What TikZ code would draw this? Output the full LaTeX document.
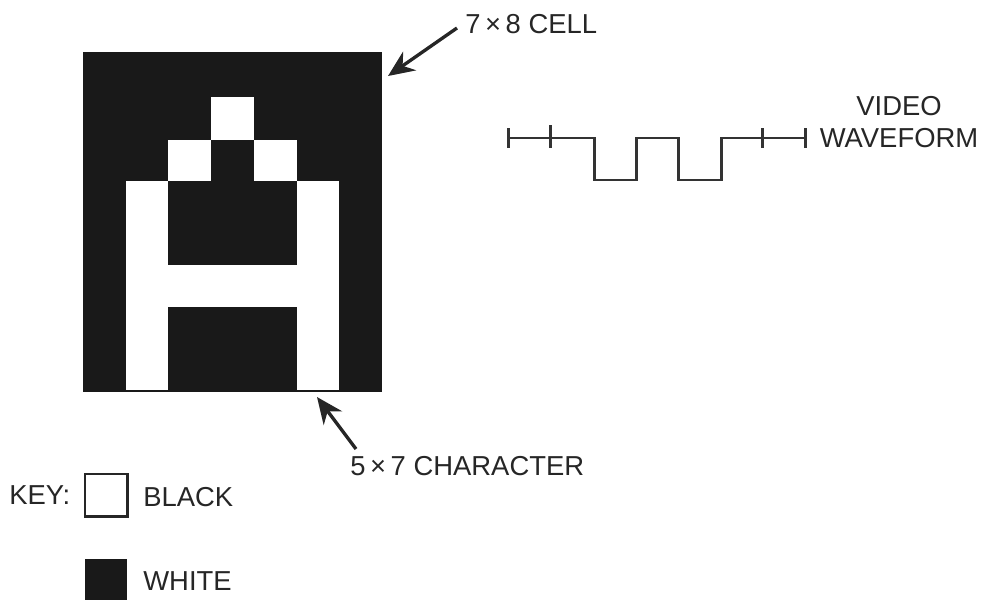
\documentclass[tikz,border=0pt]{standalone}
\usepackage{fontspec}
\setmainfont{Liberation Sans}
\usetikzlibrary{arrows.meta}
\tikzset{
    label text/.style={inner sep=0pt, anchor=west, text=black!85, font=\fontsize{15.6}{17}\selectfont},
    cell fill/.style={fill=black!90},
    char fill/.style={fill=white},
    pointer/.style={line width=1.9pt, black!85, -{Stealth[length=15pt, width=13pt]}},
    trace/.style={line width=1.7pt, black!80, line join=miter},
    swatch/.style={minimum width=24pt, minimum height=24pt, inner sep=0pt, outer sep=0pt}
}
\begin{document}
\begin{tikzpicture}[x=0.02cm, y=-0.02cm]
        \useasboundingbox (0,0) rectangle (983,599);

        % Cella 7x8
        \fill[cell fill] (83,52) rectangle (382,392);

        % Carattere 5x7
        \fill[char fill] (211,97) rectangle (254,140);
        \fill[char fill] (168,140) rectangle (211,181);
        \fill[char fill] (254,140) rectangle (297,181);
        \fill[char fill] (126,181) rectangle (168,390);
        \fill[char fill] (297,181) rectangle (339,390);
        \fill[char fill] (168,265) rectangle (297,307);

        % Etichette con frecce
        \coordinate (celltip) at (388,76);
        \coordinate (celltail) at (457,28);
        \node[label text] (celllabel) at (465,24) {7\,×\,8 CELL};
        \draw[pointer] (celltail) -- (celltip);

        \coordinate (chartip) at (317,397);
        \coordinate (chartail) at (356,449);
        \node[label text] (charlabel) at (350,466) {5\,×\,7 CHARACTER};
        \draw[pointer] (chartail) -- (chartip);

        % Forma d'onda video
        \coordinate (wavestart) at (508,138);
        \coordinate (waveend) at (805,138);
        \draw[trace] (wavestart) -- (594,138) -- (594,180) -- (636,180) -- (636,138) -- (678,138)
            -- (678,180) -- (721,180) -- (721,138) -- (waveend);
        \draw[trace] (508,128) -- (508,148);
        \draw[trace] (550,125) -- (550,148);
        \draw[trace] (762,128) -- (762,148);
        \draw[trace] (805,128) -- (805,148);
        \node[label text, anchor=center, align=center] (wavelabel) at (899,122) {VIDEO\\[1pt]WAVEFORM};

        % Legenda
        \node[label text] (keylabel) at (9,495) {KEY:};
        \node[swatch, draw=black!85, line width=1.6pt, anchor=north west] (keyblack) at (85,474) {};
        \node[label text] (blacklabel) at (143,497) {BLACK};
        \node[swatch, cell fill, anchor=north west] (keywhite) at (85,559) {};
        \node[label text] (whitelabel) at (143,581) {WHITE};
    \end{tikzpicture}
\end{document}
